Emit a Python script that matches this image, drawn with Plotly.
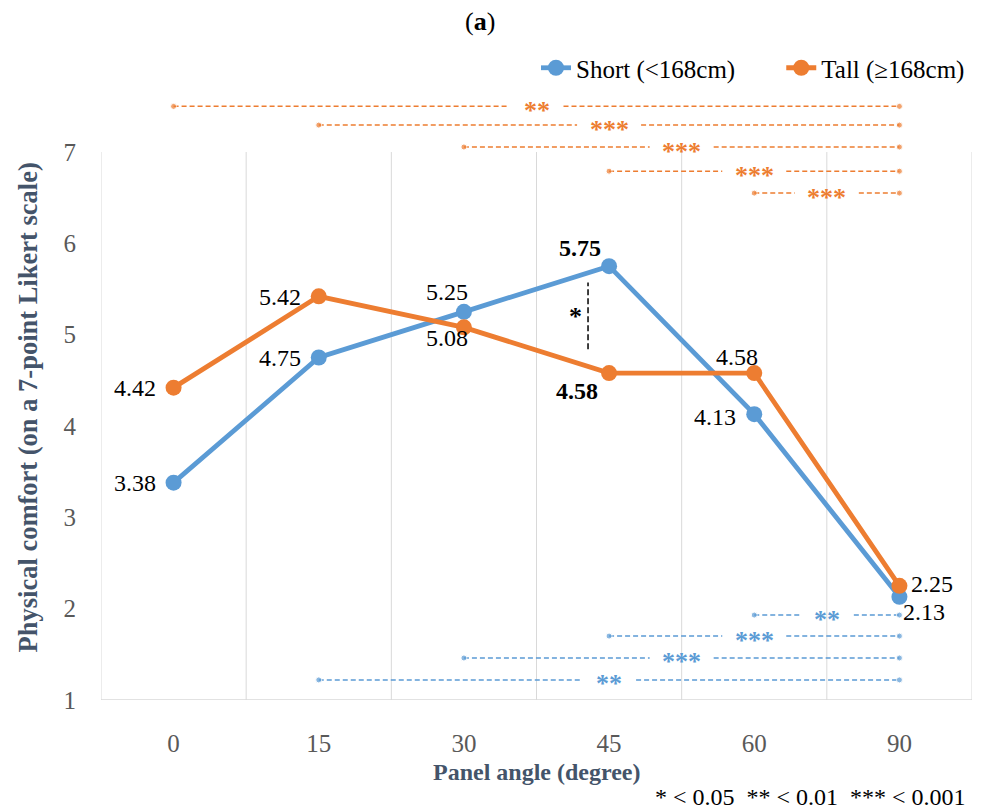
import plotly.graph_objects as go

# ---------------- data ----------------
angles = ["0", "15", "30", "45", "60", "90"]
short_vals = [3.38, 4.75, 5.25, 5.75, 4.13, 2.13]
tall_vals = [4.42, 5.42, 5.08, 4.58, 4.58, 2.25]
series_names = ["Short (<168cm)", "Tall (\u2265168cm)"]

# significance brackets: (start index, end index, label)
sig_tall = [(0, 5, "**"), (1, 5, "***"), (2, 5, "***"), (3, 5, "***"), (4, 5, "***")]
sig_short = [(4, 5, "**"), (3, 5, "***"), (2, 5, "***"), (1, 5, "**")]
footnote = "* < 0.05  ** < 0.01  *** < 0.001"

# ---------------- layout/style (positions) ----------------
sig_tall_levels = [7.50, 7.295, 7.055, 6.79, 6.55]
sig_short_levels = [1.93, 1.70, 1.46, 1.22]

BLUE = "#5B9BD5"
ORANGE = "#ED7D31"
GRID = "#D9D9D9"
SERIF = "Liberation Serif"
CAT_PX = 871 / 6          # pixel width of one category
GAP_PX = {"**": 27, "***": 32}   # half-width of the gap around the asterisks

# label offsets (xanchor, xshift, yshift, bold)
short_lbl = [("right", -16, 0, False), ("right", -16, 0, False), ("center", -17, 20, False),
             ("center", -29, 18, True), ("right", -16, -3, False), ("left", 2, -15, False)]
tall_lbl = [("right", -16, 0, False), ("right", -16, -1, False), ("center", -17, -11, False),
            ("right", -9, -18, True), ("center", -17, 16, False), ("left", 10, 2, False)]

x_idx = list(range(len(angles)))

fig = go.Figure()

# significance lines (dashed, broken around the asterisks)
for rows, levels, col in [(sig_short, sig_short_levels, BLUE), (sig_tall, sig_tall_levels, ORANGE)]:
    for (s, e, lab), lvl in zip(rows, levels):
        mid = (s + e) / 2
        g = GAP_PX[lab] / CAT_PX
        fig.add_trace(go.Scatter(
            x=[s, mid - g, None, mid + g, e], y=[lvl, lvl, None, lvl, lvl],
            mode="lines+markers", connectgaps=False,
            line=dict(color=col, width=1.5, dash="5px,3px"),
            marker=dict(color=col, size=[6, 0, 0, 0, 6]),
            showlegend=False, hoverinfo="skip"))
        fig.add_annotation(
            x=mid, y=lvl, xref="x", yref="y", yanchor="middle", xanchor="center",
            text="<b>" + lab + "</b>", showarrow=False,
            font=dict(family=SERIF, size=26, color=col), yshift=-4)

# main series (each in its own legend box to reproduce the wide spacing)
for name, vals, col, lg in [(series_names[0], short_vals, BLUE, "legend"),
                            (series_names[1], tall_vals, ORANGE, "legend2")]:
    fig.add_trace(go.Scatter(
        x=x_idx, y=vals, mode="lines+markers", name=name, legend=lg,
        line=dict(color=col, width=4.8),
        marker=dict(color=col, size=16)))

# data labels
for vals, offs in [(short_vals, short_lbl), (tall_vals, tall_lbl)]:
    for i, (v, (xa, xs, ys, bold)) in enumerate(zip(vals, offs)):
        t = f"{v:.2f}"
        if bold:
            t = "<b>" + t + "</b>"
        fig.add_annotation(x=i, y=v, xref="x", yref="y", text=t, showarrow=False,
                           xanchor=xa, yanchor="middle", xshift=xs, yshift=ys,
                           font=dict(family=SERIF, size=24, color="black"))

# gridlines & frame
shapes = []
for k in range(len(angles) + 1):
    b = k - 0.5
    shapes.append(dict(type="line", xref="x", yref="y", x0=b, x1=b, y0=1, y1=7,
                       line=dict(color=GRID, width=1), layer="below"))
shapes.append(dict(type="line", xref="x", yref="y", x0=-0.5, x1=len(angles) - 0.5, y0=1, y1=1,
                   line=dict(color=GRID, width=1.5), layer="below"))
# significance dashed vertical at 45
shapes.append(dict(type="line", xref="x", yref="y", x0=2.855, x1=2.855, y0=4.84, y1=5.57,
                   line=dict(color="black", width=1.5, dash="6px,3px")))
fig.update_layout(shapes=shapes)
fig.add_annotation(x=2.77, y=5.2, xref="x", yref="y", text="<b>*</b>", showarrow=False,
                   yanchor="middle", xanchor="center",
                   font=dict(family=SERIF, size=26, color="black"))

# titles
fig.add_annotation(xref="paper", yref="paper", x=0.435, y=1.121, text="(<b>a</b>)",
                   xanchor="center", yanchor="middle",
                   showarrow=False, font=dict(family=SERIF, size=26, color="black"))
fig.add_annotation(xref="paper", yref="paper", x=0.5, y=-0.119,
                   xanchor="center", yanchor="middle",
                   text="<b>Panel angle (degree)</b>", showarrow=False,
                   font=dict(family=SERIF, size=24, color="#44546A"))
fig.add_annotation(xref="paper", yref="paper", x=-0.0835, y=0.484, textangle=-90,
                   xanchor="center", yanchor="middle",
                   text="<b>Physical comfort (on a 7-point Likert scale)</b>", showarrow=False,
                   font=dict(family=SERIF, size=26.5, color="#44546A"))
fig.add_annotation(xref="paper", yref="paper", x=0.9954, y=-0.160, xanchor="right",
                   yanchor="middle",
                   text=footnote, showarrow=False,
                   font=dict(family=SERIF, size=24, color="black"))

legend_common = dict(orientation="h", y=1.0446, yanchor="middle",
                     font=dict(family=SERIF, size=25, color="black"),
                     bgcolor="rgba(0,0,0,0)")

fig.update_layout(
    width=981, height=812,
    margin=dict(l=101, r=9, t=95, b=112),
    plot_bgcolor="white", paper_bgcolor="white",
    font=dict(family=SERIF, size=24, color="black"),
    xaxis=dict(range=[-0.5, len(angles) - 0.5], tickvals=x_idx, ticktext=angles,
               showgrid=False, zeroline=False, showline=False, ticks="",
               tickfont=dict(family=SERIF, size=25, color="#595959"),
               ticklabelstandoff=26, fixedrange=True),
    yaxis=dict(range=[1, 1 + 605 / 91.33], tickvals=[1, 2, 3, 4, 5, 6, 7],
               showgrid=False, zeroline=False, showline=False, ticks="",
               tickfont=dict(family=SERIF, size=25, color="#595959"),
               ticklabelstandoff=24, fixedrange=True),
    legend=dict(x=0.4994, xanchor="left", **legend_common),
    legend2=dict(x=0.998, xanchor="right", **legend_common),
    showlegend=True,
)

fig.write_html("out.html")
